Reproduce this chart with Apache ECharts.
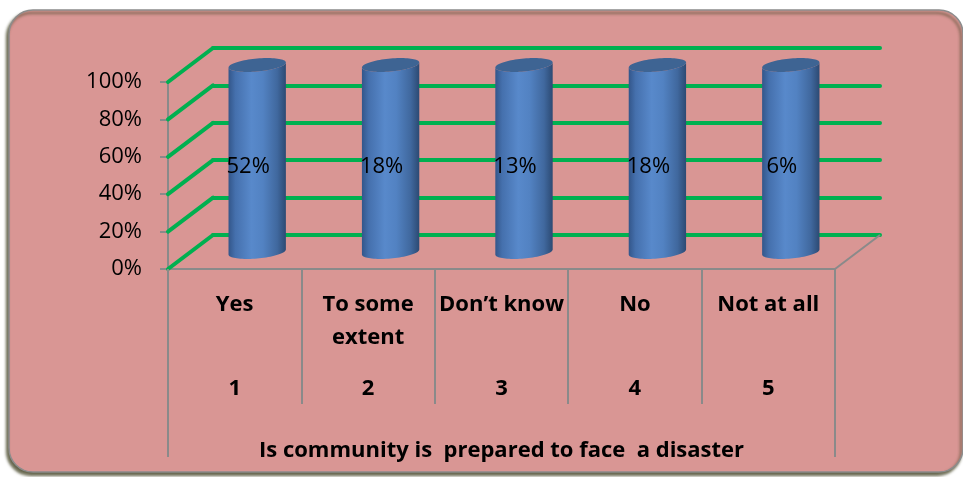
<!DOCTYPE html>
<html>
<head>
<meta charset="utf-8">
<script src="https://cdn.jsdelivr.net/npm/echarts@6/dist/echarts.min.js"></script>
<style>html,body{margin:0;padding:0;background:#fff}#c{width:963px;height:477px}</style>
</head>
<body>
<div id="c"></div>
<script>
// ---- data ----
const categories = [["Yes"], ["To some", "extent"], ["Don\u2019t know"], ["No"], ["Not at all"]];
const categoryNumbers = ["1", "2", "3", "4", "5"];
const values = [52, 18, 13, 18, 6];
const yTicks = [0, 20, 40, 60, 80, 100];
const axisTitle = "Is community is  prepared to face  a disaster";

// 100% stacked single series: each column's share of its own category total
const categoryTotals = values.map(v => v);
const shares = values.map((v, i) => v / categoryTotals[i] * 100);

// ---- layout ----
const FRONT = {left: 168, top: 82, width: 667, height: 187};
const DX = 45, DY = -34;
const GRID_LINE = '#8a8a8a';
const GREEN = '#00b050';
const FONT = '"Open Sans", "Liberation Sans", sans-serif';

const chart = echarts.init(document.getElementById('c'), null, {renderer: 'canvas'});

const catLabels = categories.map((lines, i) => {
  const l = lines.slice();
  while (l.length < 2) l.push(' ');
  return l.map(s => '{a|' + s + '}').join('\n') + '\n{b|' + categoryNumbers[i] + '}';
});

function cylinder(params, api) {
  const i = api.value(0);
  const top = api.coord([i, api.value(1)]);
  const bot = api.coord([i, 0]);
  const c = top[0];
  const r = api.size([1, 0])[0] * 0.215;
  const ry = 6.5, k = 2.5;
  const ell = (cy, t) => [c + r * Math.cos(t), cy + ry * Math.sin(t) - k * Math.cos(t)];
  const N = 40;
  const body = [];
  for (let j = 0; j <= N; j++) body.push(ell(bot[1], Math.PI * j / N));
  for (let j = 0; j <= N; j++) body.push(ell(top[1], Math.PI - Math.PI * j / N));
  const cap = [];
  for (let j = 0; j < 2 * N; j++) cap.push(ell(top[1], 2 * Math.PI * j / (2 * N)));
  return {
    type: 'group',
    children: [
      {type: 'polygon', shape: {points: body}, style: {
        fill: new echarts.graphic.LinearGradient(0, 0, 1, 0, [
          {offset: 0, color: '#33568a'},
          {offset: 0.12, color: '#4570ad'},
          {offset: 0.4, color: '#5889cb'},
          {offset: 0.6, color: '#5282c2'},
          {offset: 0.85, color: '#40689e'},
          {offset: 1, color: '#2c4a73'}
        ]), stroke: null}},
      {type: 'polygon', shape: {points: cap}, style: {fill: '#3e6493', stroke: null}},
      {type: 'text', x: c - 9, y: (top[1] + bot[1]) / 2 + 8.5, style: {
        text: values[params.dataIndex] + '%', font: '22px ' + FONT, fill: '#000',
        align: 'center', verticalAlign: 'middle'}}
    ]
  };
}

const option = {
  backgroundColor: '#ffffff',
  animation: false,
  graphic: [{
    type: 'rect', z: -10, silent: true,
    shape: {x: 9, y: 10, width: 954, height: 462, r: 24},
    style: {fill: '#d99694', stroke: '#8c8c8c', lineWidth: 1.5,
      shadowColor: 'rgba(70,70,40,0.85)', shadowBlur: 3, shadowOffsetX: -2, shadowOffsetY: 3}
  }],
  grid: [
    {left: FRONT.left, top: FRONT.top, width: FRONT.width, height: FRONT.height},
    {left: FRONT.left + DX, top: FRONT.top + DY, width: FRONT.width, height: FRONT.height},
    {left: FRONT.left + DX / 2, top: FRONT.top + DY / 2, width: FRONT.width, height: FRONT.height}
  ],
  xAxis: [
    {gridIndex: 0, type: 'category', data: catLabels, boundaryGap: true,
      axisLine: {lineStyle: {color: GRID_LINE, width: 2}},
      axisTick: {show: true, length: 135, lineStyle: {color: GRID_LINE, width: 2}},
      axisLabel: {interval: 0, margin: 19, color: '#000', rich: {
        a: {fontFamily: FONT, fontWeight: 'bold', fontSize: 22, lineHeight: 33, color: '#000'},
        b: {fontFamily: FONT, fontWeight: 'bold', fontSize: 22, lineHeight: 69, color: '#000'}
      }},
      name: axisTitle, nameLocation: 'middle', nameGap: 171,
      nameTextStyle: {fontFamily: FONT, fontWeight: 'bold', fontSize: 22, color: '#000'}},
    {gridIndex: 0, type: 'value', min: 0, max: 5, show: false},
    {gridIndex: 1, type: 'category', data: categoryNumbers, show: false},
    {gridIndex: 2, type: 'category', data: categoryNumbers, show: false}
  ],
  yAxis: [
    {gridIndex: 0, type: 'value', min: 0, max: 100, interval: 20,
      axisLine: {show: true, lineStyle: {color: GRID_LINE, width: 2}},
      axisTick: {show: true, length: 8, lineStyle: {color: GRID_LINE, width: 2}},
      axisLabel: {formatter: '{value}%', margin: 26, color: '#000', fontFamily: FONT, fontSize: 22},
      splitLine: {show: false}},
    {gridIndex: 1, type: 'value', min: 0, max: 100, interval: 20,
      axisLine: {show: false}, axisTick: {show: false}, axisLabel: {show: false},
      splitLine: {show: true, lineStyle: {color: GREEN, width: 4, cap: 'round'}}},
    {gridIndex: 2, type: 'value', min: 0, max: 100, show: false}
  ],
  series: [
    {type: 'custom', name: 'walls', xAxisIndex: 1, yAxisIndex: 0, z: 1,
      data: yTicks.map(v => [0, v]),
      renderItem: (params, api) => {
        const p = api.coord([api.value(0), api.value(1)]);
        return {type: 'line', shape: {x1: p[0], y1: p[1], x2: p[0] + DX, y2: p[1] + DY},
          style: {stroke: GREEN, lineWidth: 4, lineCap: 'round'}};
      }},
    {type: 'custom', name: 'frame', xAxisIndex: 1, yAxisIndex: 0, z: 1,
      data: [[0, 5]],
      renderItem: (params, api) => {
        const l = api.coord([api.value(0), 0]);
        const r = api.coord([api.value(1), 0]);
        const s = {stroke: GRID_LINE, lineWidth: 2};
        return {type: 'group', children: [
          {type: 'line', shape: {x1: r[0], y1: r[1], x2: r[0] + DX, y2: r[1] + DY}, style: s},
          {type: 'line', shape: {x1: l[0], y1: l[1], x2: l[0], y2: l[1] + 188}, style: s},
          {type: 'line', shape: {x1: r[0], y1: r[1], x2: r[0], y2: r[1] + 188}, style: s}
        ]};
      }},
    {type: 'custom', name: 'share', xAxisIndex: 3, yAxisIndex: 2, z: 5,
      data: shares.map((s, i) => [i, s]),
      renderItem: cylinder}
  ]
};
chart.setOption(option);
</script>
</body>
</html>
